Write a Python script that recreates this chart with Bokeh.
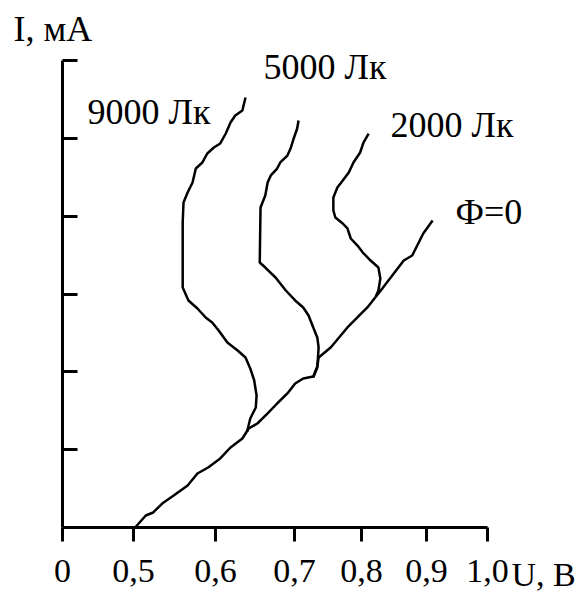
import numpy as np
from bokeh.plotting import figure
from bokeh.models import Range1d, FixedTicker, LinearAxis, Label
from bokeh.embed import file_html
from bokeh.resources import INLINE

# ---------------- data (U in volts, I in axis divisions) ----------------
U_TICK_VALUES = [0.0, 0.5, 0.6, 0.7, 0.8, 0.9, 1.0]
U_TICK_LABELS = ["0", "0,5", "0,6", "0,7", "0,8", "0,9", "1,0"]
I_TICK_VALUES = [1, 2, 3, 4, 5, 6]

phi0_u = [0.502, 0.515, 0.524, 0.535, 0.549, 0.566, 0.578, 0.591, 0.606, 0.619,
          0.634, 0.642, 0.653, 0.666, 0.678, 0.691, 0.701, 0.713, 0.728, 0.734,
          0.736, 0.754, 0.779, 0.809, 0.832, 0.865, 0.878, 0.895, 0.910]
phi0_i = [0.000, 0.154, 0.193, 0.308, 0.411, 0.540, 0.694, 0.771, 0.887, 1.028,
          1.143, 1.272, 1.336, 1.465, 1.593, 1.722, 1.850, 1.914, 1.940, 2.069,
          2.184, 2.313, 2.570, 2.827, 3.071, 3.430, 3.495, 3.777, 3.944]

lx2000_u = [0.811, 0.803, 0.798, 0.788, 0.781, 0.772, 0.764, 0.758, 0.758, 0.761,
            0.772, 0.779, 0.784, 0.794, 0.802, 0.814, 0.826, 0.829, 0.826, 0.822]
lx2000_i = [5.062, 4.946, 4.818, 4.690, 4.561, 4.458, 4.368, 4.240, 4.073, 3.983,
            3.906, 3.842, 3.713, 3.623, 3.533, 3.430, 3.340, 3.199, 3.045, 2.968]

lx5000_u = [0.706, 0.704, 0.699, 0.695, 0.691, 0.682, 0.678, 0.670, 0.666, 0.663,
            0.657, 0.656, 0.663, 0.676, 0.689, 0.701, 0.713, 0.721, 0.728, 0.734,
            0.736, 0.734, 0.728]
lx5000_i = [5.229, 5.126, 4.998, 4.869, 4.779, 4.690, 4.612, 4.523, 4.432, 4.266,
            4.111, 3.405, 3.340, 3.212, 3.045, 2.917, 2.827, 2.724, 2.570, 2.441,
            2.313, 2.056, 1.927]

lx9000_u = [0.638, 0.634, 0.625, 0.619, 0.613, 0.606, 0.598, 0.590, 0.584, 0.576,
            0.572, 0.566, 0.561, 0.560, 0.560, 0.567, 0.578, 0.588, 0.596, 0.604,
            0.615, 0.628, 0.638, 0.644, 0.649, 0.652, 0.651, 0.644, 0.640]
lx9000_i = [5.525, 5.358, 5.293, 5.203, 5.062, 4.934, 4.882, 4.805, 4.690, 4.612,
            4.432, 4.304, 4.176, 3.919, 3.084, 2.917, 2.814, 2.698, 2.634, 2.531,
            2.377, 2.274, 2.184, 2.043, 1.889, 1.696, 1.542, 1.400, 1.230]

# ---------------- layout (hand-drawn, unevenly spaced U axis) ----------------
AXIS_POS = [62, 133, 215, 294, 361, 426, 487]   # where each U tick sits on the axis
PX_PER_DIV = 77.833
I_ZERO_PX = 527
W, H = 582, 594


def u_to_axis(u):
    return np.interp(np.asarray(u, dtype=float), U_TICK_VALUES, AXIS_POS)


def ybase(sy):
    return (I_ZERO_PX - sy) / PX_PER_DIV


FONT = "Liberation Serif"
FS = "36px"
FS_TICK = "34px"

p = figure(width=W, height=H, output_backend="svg", toolbar_location=None,
           x_range=Range1d(0, W),
           y_range=Range1d(ybase(H), ybase(0)),
           x_axis_type=None, y_axis_type=None, min_border=0)
p.outline_line_color = None
p.background_fill_color = "white"
p.border_fill_color = "white"

xaxis = LinearAxis(fixed_location=0,
                   ticker=FixedTicker(ticks=AXIS_POS),
                   bounds=(AXIS_POS[0], AXIS_POS[-1]),
                   major_label_overrides={pos: lab for pos, lab in zip(AXIS_POS, U_TICK_LABELS)},
                   axis_line_width=3, axis_line_color="black",
                   major_tick_line_width=3, major_tick_line_color="black",
                   major_tick_in=0, major_tick_out=14,
                   minor_tick_line_color=None,
                   major_label_standoff=18,
                   major_label_text_font=FONT, major_label_text_font_size=FS_TICK,
                   major_label_text_color="black")
p.add_layout(xaxis, "below")

yaxis = LinearAxis(fixed_location=AXIS_POS[0],
                   ticker=FixedTicker(ticks=I_TICK_VALUES),
                   bounds=(0, I_TICK_VALUES[-1]),
                   major_label_overrides={t: "" for t in I_TICK_VALUES},
                   axis_line_width=3, axis_line_color="black",
                   major_tick_line_width=3, major_tick_line_color="black",
                   major_tick_in=15, major_tick_out=0,
                   minor_tick_line_color=None)
p.add_layout(yaxis, "left")

for uu, ii in [(phi0_u, phi0_i), (lx2000_u, lx2000_i), (lx5000_u, lx5000_i), (lx9000_u, lx9000_i)]:
    p.line(u_to_axis(uu), ii, line_color="black", line_width=2.5)

labels = [
    ("I, мА", 13, 28, FS),
    ("9000 Лк", 87, 111, FS),
    ("5000 Лк", 263, 66, FS),
    ("2000 Лк", 390, 124, FS),
    ("Ф=0", 455, 211, FS),
    ("U, В", 511, 574, FS_TICK),
]
for txt, sx, sy, fs in labels:
    p.add_layout(Label(x=sx, y=ybase(sy), text=txt, text_font=FONT, text_font_size=fs,
                       text_color="black", text_baseline="alphabetic", text_align="left"))

open("out.html", "w").write(file_html(p, INLINE))
